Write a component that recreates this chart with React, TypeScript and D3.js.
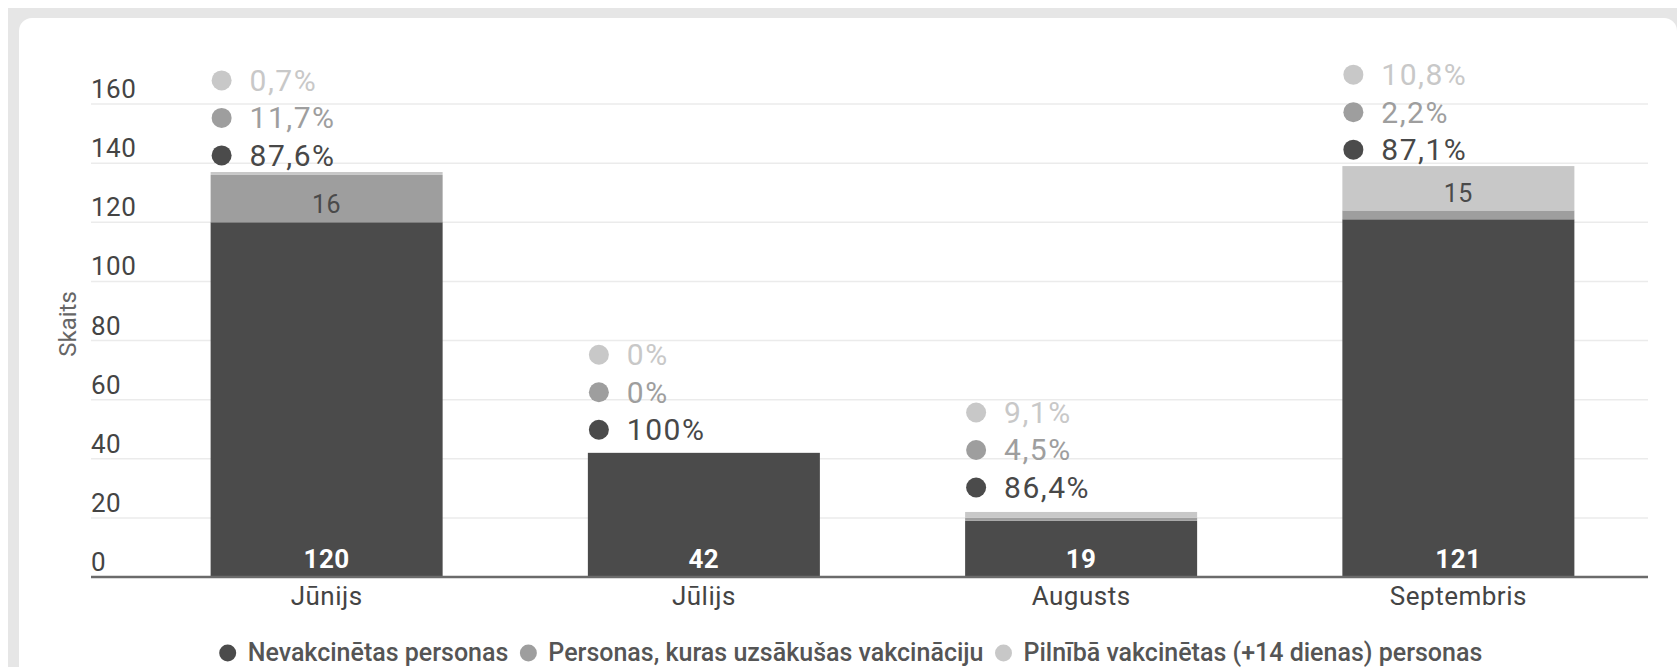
import React, { useEffect, useRef } from 'react';
import * as d3 from 'd3';

const months = ['Jūnijs', 'Jūlijs', 'Augusts', 'Septembris'];
const unvaccinated = [120, 42, 19, 121];
const started = [16, 0, 1, 3];
const fullyVaccinated = [1, 0, 2, 15];
const seriesNames = [
  'Nevakcinētas personas',
  'Personas, kuras uzsākušas vakcināciju',
  'Pilnībā vakcinētas (+14 dienas) personas',
];
const seriesColors = ['#4b4b4b', '#9e9e9e', '#c8c8c8'];
const yTicks = [0, 20, 40, 60, 80, 100, 120, 140, 160];
const yTitle = 'Skaits';

const W = 1677;
const H = 667;

function fmtPct(v: number, t: number): string {
  const p = Math.round((v / t) * 1000) / 10;
  return String(p).replace('.', ',') + '%';
}

export default function App() {
  const ref = useRef<SVGSVGElement | null>(null);

  useEffect(() => {
    const svg = d3.select(ref.current);
    svg.selectAll('*').remove();
    const font = 'Roboto, "Noto Sans", sans-serif';

    // background + card
    svg.append('rect').attr('x', 0).attr('y', 0).attr('width', W).attr('height', H).attr('fill', '#ffffff');
    svg.append('rect').attr('x', 8).attr('y', 8).attr('width', W - 8).attr('height', H - 8).attr('fill', '#e6e6e6');
    svg.append('rect').attr('x', 19).attr('y', 18).attr('width', W - 19).attr('height', H + 20).attr('rx', 13).attr('fill', '#ffffff');

    const data = months.map((m, i) => ({
      month: m,
      s0: unvaccinated[i],
      s1: started[i],
      s2: fullyVaccinated[i],
    }));
    const keys = ['s0', 's1', 's2'];
    const stacked = d3.stack<any>().keys(keys)(data);

    const x = d3.scaleBand<string>().domain(months).range([138, 1647]).paddingInner(0.385).paddingOuter(0.1925);
    const y = d3.scaleLinear().domain([0, 160]).range([577, 104]);
    const yLab = d3.scaleLinear().domain([0, 160]).range([551, 89]);

    // gridlines
    const g = svg.append('g');
    g.selectAll('line.grid')
      .data(yTicks.filter((t) => t > 0))
      .enter()
      .append('line')
      .attr('x1', 91)
      .attr('x2', 1648)
      .attr('y1', (d) => y(d))
      .attr('y2', (d) => y(d))
      .attr('stroke', '#ebebeb')
      .attr('stroke-width', 1.5);

    // tick labels
    g.selectAll('text.tick')
      .data(yTicks)
      .enter()
      .append('text')
      .attr('x', 91)
      .attr('y', (d) => y(d) - 6)
      .attr('font-family', font)
      .attr('font-size', 26)
      .attr('letter-spacing', 0.5)
      .attr('fill', '#444')
      .text((d) => String(d));

    // y title
    svg
      .append('text')
      .attr('transform', 'translate(76,324) rotate(-90)')
      .attr('text-anchor', 'middle')
      .attr('font-family', font)
      .attr('font-size', 24)
      .attr('fill', '#666')
      .text(yTitle);

    // bars
    stacked.forEach((layer, li) => {
      g.selectAll('rect.s' + li)
        .data(layer)
        .enter()
        .append('rect')
        .attr('x', (d: any) => x(d.data.month) as number)
        .attr('width', x.bandwidth())
        .attr('y', (d: any) => y(d[1]))
        .attr('height', (d: any) => Math.max(0, y(d[0]) - y(d[1])))
        .attr('fill', seriesColors[li]);
    });

    // baseline
    g.append('line')
      .attr('x1', 91)
      .attr('x2', 1648)
      .attr('y1', y(0))
      .attr('y2', y(0))
      .attr('stroke', '#6b6b6b')
      .attr('stroke-width', 2.5);

    // segment labels
    stacked.forEach((layer, li) => {
      layer.forEach((d: any) => {
        const v = d[1] - d[0];
        const h = y(d[0]) - y(d[1]);
        if (v <= 0 || h < 30) return;
        const cx = (x(d.data.month) as number) + x.bandwidth() / 2;
        if (li === 0) {
          g.append('text')
            .attr('x', cx)
            .attr('y', y(0) - 9)
            .attr('text-anchor', 'middle')
            .attr('font-family', font)
            .attr('font-size', 26)
            .attr('font-weight', 'bold')
            .attr('letter-spacing', 0.5)
            .attr('fill', '#ffffff')
            .text(String(v));
        } else {
          g.append('text')
            .attr('x', cx)
            .attr('y', (y(d[0]) + y(d[1])) / 2 + 14)
            .attr('text-anchor', 'middle')
            .attr('font-family', font)
            .attr('font-size', 25)
            .attr('letter-spacing', 0.5)
            .attr('fill', '#4a4a4a')
            .text(String(v));
        }
      });
    });

    // percentage labels
    const pctTextColors = ['#484848', '#9e9e9e', '#c8c8c8'];
    data.forEach((d) => {
      const total = d.s0 + d.s1 + d.s2;
      const vals = [d.s0, d.s1, d.s2];
      const bx = (x(d.month) as number) + 11;
      const base = yLab(total);
      vals.forEach((v, i) => {
        const cy = base - i * 37.5;
        g.append('circle').attr('cx', bx).attr('cy', cy).attr('r', 10).attr('fill', seriesColors[i]);
        g.append('text')
          .attr('x', bx + 28)
          .attr('y', cy + 10.5)
          .attr('font-family', font)
          .attr('font-size', 30)
          .attr('letter-spacing', 1.5)
          .attr('fill', pctTextColors[i])
          .text(fmtPct(v, total));
      });
    });

    // x labels
    g.selectAll('text.xl')
      .data(months)
      .enter()
      .append('text')
      .attr('x', (d) => (x(d) as number) + x.bandwidth() / 2)
      .attr('y', 605)
      .attr('text-anchor', 'middle')
      .attr('font-family', font)
      .attr('font-size', 26)
      .attr('letter-spacing', 0.5)
      .attr('fill', '#444')
      .text((d) => d);

    // legend
    const lg = svg.append('g');
    const items: { g: any; w: number }[] = [];
    seriesNames.forEach((name, i) => {
      const ig = lg.append('g');
      ig.append('circle').attr('cx', 8).attr('cy', 653).attr('r', 8.5).attr('fill', seriesColors[i]);
      const t = ig
        .append('text')
        .attr('x', 28)
        .attr('y', 661)
        .attr('font-family', font)
        .attr('font-size', 25)
        .attr('font-weight', 500)
        .attr('fill', '#555')
        .text(name);
      const tw = (t.node() as SVGTextElement).getComputedTextLength();
      items.push({ g: ig, w: 28 + tw });
    });
    const gap = 12;
    const totalW = items.reduce((a, b) => a + b.w, 0) + gap * (items.length - 1);
    let cx = 851 - totalW / 2;
    items.forEach((it) => {
      it.g.attr('transform', `translate(${cx},0)`);
      cx += it.w + gap;
    });
  }, []);

  return (
    <div style={{ position: 'fixed', left: 0, top: 0, width: W, height: H, overflow: 'hidden' }}>
      <svg ref={ref} width={W} height={H} style={{ display: 'block' }} />
    </div>
  );
}
